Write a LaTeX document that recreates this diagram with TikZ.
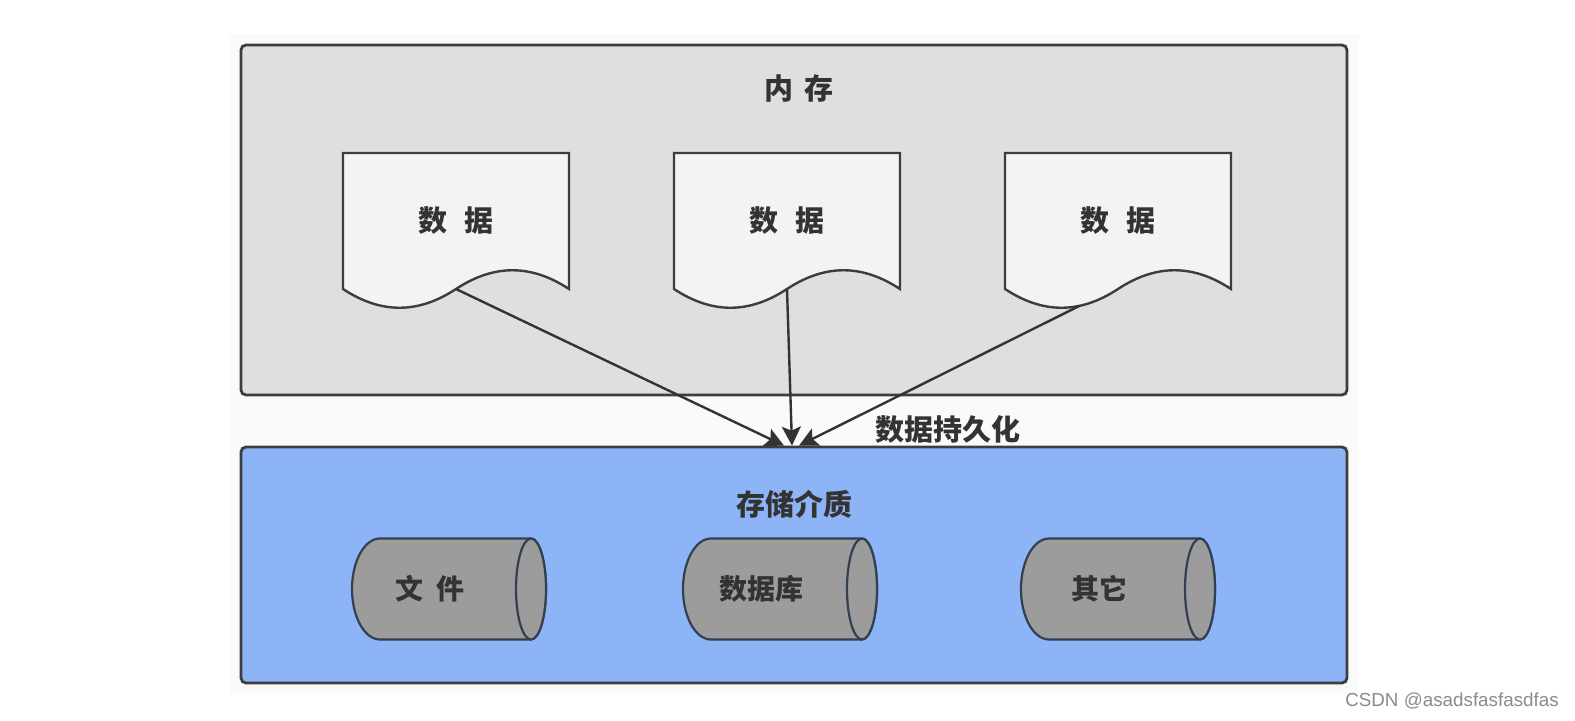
\documentclass[tikz,border=0pt]{standalone}
\usepackage{fontspec}
\setmainfont{Liberation Sans}
\newfontfamily\cjk{Noto Sans CJK SC}
\usetikzlibrary{positioning}
\usetikzlibrary{calc}
\usetikzlibrary{arrows.meta}
\definecolor{panel colour}{HTML}{FAFAFA}
\definecolor{memory colour}{HTML}{DFDFDF}
\definecolor{page colour}{HTML}{F3F3F3}
\definecolor{media colour}{HTML}{8DB4F7}
\definecolor{disk colour}{HTML}{9C9C9C}
\definecolor{edge colour}{HTML}{3D3D3D}
\definecolor{disk edge colour}{HTML}{33404F}
\definecolor{text colour}{HTML}{333333}
\definecolor{mark colour}{HTML}{8A8A8A}
\tikzset{
    % Arrow shape used for the flow lines
    >={Stealth[length=9.5pt, width=9.5pt, inset=2pt]},
%
    % Fills
    panel fill/.style={fill=panel colour},
    memory fill/.style={fill=memory colour},
    page fill/.style={fill=page colour},
    media fill/.style={fill=media colour},
    disk fill/.style={fill=disk colour},
%
    % Lines
    flow/.style={draw=text colour, line width=1.2pt, ->},
    page line/.style={draw=edge colour, line width=1.2pt, page fill},
    disk line/.style={draw=disk edge colour, line width=1.1pt, disk fill},
%
    box/.style={
        draw=edge colour, rectangle, line width=1.4pt, rounded corners=2.5pt,
        minimum width=553pt},
    title/.style={
        font=\cjk\bfseries\fontsize{14.5}{17}\selectfont, text=text colour},
    doc/.style={
        title, rectangle, minimum width=113pt, minimum height=68pt,
        inner sep=0, outer sep=0},
    disk/.style={
        title, font=\cjk\bfseries\fontsize{14}{17}\selectfont},
    watermark text/.style={
        font=\fontsize{9.4}{11}\selectfont, text=mark colour},
}
\pgfdeclarelayer{boxes}
\pgfdeclarelayer{background}
\pgfsetlayers{boxes,background,main}

\begin{document}
\begin{tikzpicture}[x=0.5pt, y=0.5pt]
\useasboundingbox (0,0) rectangle (1575,720);

\begin{pgfonlayer}{boxes}
\fill [panel fill] (229,25) rectangle (1359,686);
\path
    (794,500) node [box, memory fill, minimum height=175pt] (mem) {}
    (794,155) node [box, media fill, minimum height=118pt] (media) {};
\end{pgfonlayer}

\path
    (799,632) node [title] (mem title) {内\hspace{0.4em}存}
    (794,216) node [title] (media title) {存储介质}
    (948,291) node [title] (persist) {数据持久化}
    (456,499) node [doc] (d1) {数\hspace{0.6em}据}
    (787,499) node [doc] (d2) {数\hspace{0.6em}据}
    (1118,499) node [doc] (d3) {数\hspace{0.6em}据}
    (430,131) node [disk] (c1) {文\hspace{0.45em}件}
    (761,131) node [disk] (c2) {数据库}
    (1099,131) node [disk] (c3) {其它}
    (1452,19) node [watermark text] (watermark) {CSDN @asadsfasfasdfas};

\begin{pgfonlayer}{background}
% document outlines with a wavy bottom
\foreach \d in {d1,d2,d3}
    \draw [page line] (\d.north west) -- (\d.south west)
        .. controls ($(\d.south west)+(38,-25)$) and ($(\d.south west)+(75,-25)$) .. (\d.south)
        coordinate [pos=0.66] (\d-dip)
        .. controls ($(\d.south)+(38,25)$) and ($(\d.south)+(75,25)$) .. (\d.south east)
        -- (\d.north east) -- cycle;
% storage cylinders
\foreach \c in {c1,c2,c3} {
    \draw [disk line] ($(\c)+(-50,50.5)$) -- ($(\c)+(101,50.5)$)
        arc [start angle=90, end angle=-90, x radius=7.5pt, y radius=25.25pt]
        -- ($(\c)+(-50,-50.5)$)
        arc [start angle=270, end angle=90, x radius=14pt, y radius=25.25pt] -- cycle;
    \draw [disk line] ($(\c)+(101,0)$) ellipse [x radius=7.5pt, y radius=25.25pt];
}
\end{pgfonlayer}

\draw [flow] (d1.south) -- ([xshift=-5pt]media.north);
\draw [flow] (d2.south) -- ([xshift=-1pt]media.north);
\draw [flow] (d3-dip) -- ([xshift=2.5pt]media.north);

\end{tikzpicture}
\end{document}
